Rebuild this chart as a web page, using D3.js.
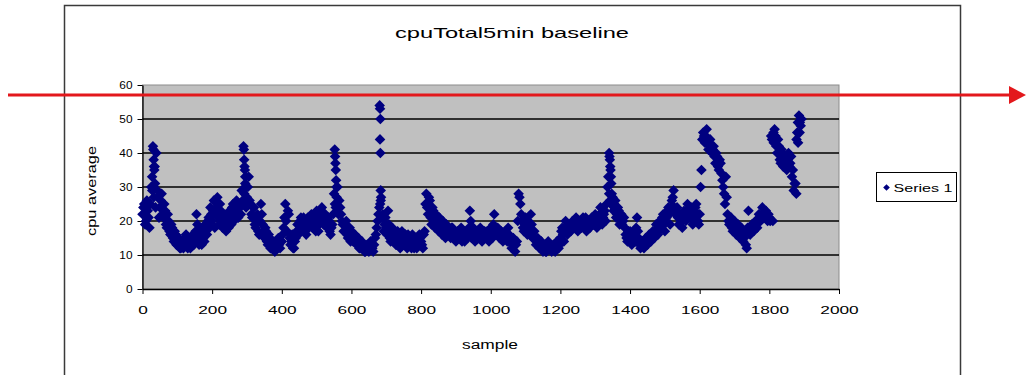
<!DOCTYPE html>
<html>
<head>
<meta charset="utf-8">
<script src="https://cdn.jsdelivr.net/npm/d3@7"></script>
<style>
  html, body { margin: 0; padding: 0; background: #fff; }
  svg { display: block; }
  text { font-family: "Liberation Sans", Arial, sans-serif; }
</style>
</head>
<body>
<svg id="chart" width="1026" height="375"></svg>
<script>
// ---------------- DATA ----------------
const chartTitle = "cpuTotal5min baseline";
const xLabel = "sample";
const yLabel = "cpu average";
const seriesName = "Series 1";
const xTicks = [0, 200, 400, 600, 800, 1000, 1200, 1400, 1600, 1800, 2000];
const yTicks = [0, 10, 20, 30, 40, 50, 60];

// readings every 5 samples starting at sample 0
const sampleStep = 5;
const cpu0000 = [22,25,20,23,18,30,42,36,40,27,24,28,21,23,18,20,16,18,14,16, 13,15,12,14,13,16,12,14,13,16,14,22,15,18,13,17,19,16,21,24];
const cpu0200 = [20,26,22,27,19,23,18,21,17,20,23,19,25,22,26,21,24,29,25,31, 27,33,25,21,24,18,22,16,25,19,15,17,13,15,12,14,11,13,15,12];
const cpu0400 = [14,18,25,17,22,13,16,12,15,19,17,21,18,20,16,21,19,22,18,20, 23,17,21,24,19,22,18,20,16,19,28,24,30,26,22,19,17,20,15,18];
const cpu0600 = [17,14,16,13,15,12,14,12,11,13,11,14,12,13,16,20,24,27,22,19, 18,23,15,17,14,16,13,15,12,17,14,16,12,15,13,16,12,15,14,16];
const cpu0800 = [14,12,17,28,22,26,19,23,18,21,17,20,16,19,15,18,17,15,18,16, 14,17,15,18,16,14,17,16,23,15,18,14,17,15,18,14,16,15,17,14];
const cpu1000 = [18,15,22,16,18,15,17,14,16,15,18,14,12,15,11,14,28,25,20,17, 21,16,19,22,15,17,13,15,12,14,11,13,11,14,12,11,13,11,14,12];
const cpu1200 = [15,18,14,20,16,19,17,20,18,21,17,20,18,21,19,17,20,18,21,19, 22,18,20,24,19,22,20,30,28,25,27,24,21,24,19,22,20,18,15,17];
const cpu1400 = [17,13,16,14,21,15,12,14,12,15,13,16,14,17,15,19,16,20,18,22, 17,21,24,19,26,29,22,24,19,21,18,23,20,25,21,24,19,23,25,20];
const cpu1600 = [22,35,46,43,47,41,44,40,42,37,39,35,37,32,28,33,22,19,21,17, 20,16,19,15,18,14,17,12,23,16,19,17,20,18,22,20,24,21,23,20];
const cpu1800 = [21,45,20,47,42,44,38,41,36,39,35,40,37,33,29,31,46,51,48];

// in-between readings, every 5 samples starting at sample 2.5
const offsetB = 2.5;
const mid0000 = [24,19,26,21,25,33,27,24,29,21,26,22,25,19,22,17,19,15,17,13, 15,12,14,12,15,13,15,12,15,13,17,19,13,16,15,14,17,20,18,22];
const mid0200 = [23,18,24,21,25,20,22,19,22,18,21,24,20,24,23,25,22,26,28,24, 30,26,22,24,19,21,17,20,22,17,18,14,16,12,14,12,14,12,13,14];
const mid0400 = [16,21,20,23,15,14,12,14,17,16,20,19,21,17,19,18,21,20,21,17, 21,19,23,20,22,19,21,17,18,22,25,27,22,24,20,17,19,16,17,14];
const mid0600 = [15,16,14,14,12,13,13,11,12,12,13,12,11,15,18,22,25,21,17,21, 16,19,14,18,15,13,17,14,16,13,15,13,16,14,12,14,15,12,13,13];
const mid0800 = [13,16,25,24,27,21,24,20,22,19,21,18,20,17,19,16,16,18,15,17, 16,15,17,14,17,16,15,18,20,17,16,15,15,17,16,15,17,16,15,16];
const mid1000 = [16,19,18,17,16,17,15,16,17,14,16,15,13,14,13,20,27,22,18,19, 18,20,17,19,17,15,14,13,13,12,12,11,12,12,13,12,12,12,13,13];
const mid1200 = [17,16,18,17,18,18,19,19,20,19,19,19,20,19,21,19,19,20,19,21, 20,21,22,21,21,23,25,33,26,28,23,26,22,23,21,19,21,16,14,15];
const mid1400 = [15,14,15,18,17,13,14,13,14,14,15,14,16,16,17,17,18,19,21,19, 20,23,22,24,27,24,23,21,22,20,22,21,23,22,23,21,22,24,22,19];
const mid1600 = [30,44,45,45,43,43,42,41,39,40,36,38,34,30,25,27,20,20,18,19, 18,17,17,16,16,15,13,18,17,18,18,19,19,20,21,22,22,22,21,22];
const mid1800 = [20,44,43,45,40,42,37,40,37,38,38,36,39,35,31,28,43,49,50];

// extra readings inside the short spikes: [sample, value]
const spikeReadings = [
  [31,41],[32,38],[33,36],[34,35],[36,31],[28,29],
  [290,42],[291,41],[292,38],[293,36],[294,35],[295,33],[296,30],
  [552,41],[553,39],[554,37],[555,35],[556,32],[557,30],
  [681,54],[682,53],[683,50],[682,44],[683,40],[684,29],[684,26],
  [1340,40],[1341,39],[1342,38],[1343,36],[1344,35],[1345,33],[1346,31],
  [1812,46],[1878,44],[1882,49],[1887,46]
];

// ---------------- BUILD ----------------
const baseValues = [].concat(cpu0000, cpu0200, cpu0400, cpu0600, cpu0800,
                             cpu1000, cpu1200, cpu1400, cpu1600, cpu1800);
const midValues = [].concat(mid0000, mid0200, mid0400, mid0600, mid0800,
                            mid1000, mid1200, mid1400, mid1600, mid1800);
const points = baseValues.map((v, i) => ({ s: i * sampleStep, v: v }))
  .concat(midValues.map((v, i) => ({ s: i * sampleStep + offsetB, v: v })))
  .concat(spikeReadings.map(d => ({ s: d[0], v: d[1] })));

const svg = d3.select("#chart");

// outer chart frame
svg.append("rect")
  .attr("x", 64.5).attr("y", 5.5).attr("width", 896).attr("height", 400)
  .attr("fill", "#fff").attr("stroke", "#3a3a3a").attr("stroke-width", 1.5);

const plot = { left: 142.5, right: 839, top: 85, bottom: 289 };
const x = d3.scaleLinear().domain([0, 2000]).range([plot.left, plot.right]);
const y = d3.scaleLinear().domain([0, 60]).range([plot.bottom, plot.top]);

// plot background
svg.append("rect")
  .attr("x", plot.left).attr("y", plot.top)
  .attr("width", plot.right - plot.left).attr("height", plot.bottom - plot.top)
  .attr("fill", "#c0c0c0").attr("stroke", "#8c8c8c").attr("stroke-width", 1);

// gridlines
svg.append("g").selectAll("line")
  .data(yTicks.filter(t => t > 0 && t < 60))
  .join("line")
  .attr("x1", plot.left).attr("x2", plot.right)
  .attr("y1", d => y(d)).attr("y2", d => y(d))
  .attr("stroke", "#000").attr("stroke-width", 1.4);

// axes
const xAxis = svg.append("g")
  .attr("transform", `translate(0,${plot.bottom})`)
  .call(d3.axisBottom(x).tickValues(xTicks).tickFormat(d3.format("d")).tickSize(5).tickSizeOuter(0));
xAxis.select(".domain").attr("stroke", "#000").attr("stroke-width", 1.3);
xAxis.selectAll(".tick line").attr("stroke", "#000");
xAxis.selectAll(".tick text")
  .attr("font-size", 11).attr("fill", "#000").attr("y", 17)
  .attr("font-family", "'Liberation Sans', Arial, sans-serif")
  .attr("textLength", function() { return this.textContent.length * 9.6; })
  .attr("lengthAdjust", "spacingAndGlyphs");

const yAxis = svg.append("g")
  .attr("transform", `translate(${plot.left},0)`)
  .call(d3.axisLeft(y).tickValues(yTicks).tickFormat(d3.format("d")).tickSize(5).tickSizeOuter(0));
yAxis.select(".domain").attr("stroke", "#000").attr("stroke-width", 1.3);
yAxis.selectAll(".tick line").attr("stroke", "#000");
yAxis.selectAll(".tick text")
  .attr("font-size", 11).attr("fill", "#000").attr("x", -10)
  .attr("font-family", "'Liberation Sans', Arial, sans-serif")
  .attr("textLength", function() { return this.textContent.length * 6.6; })
  .attr("lengthAdjust", "spacingAndGlyphs");

// points (diamonds)
const diamond = d3.symbol().type(d3.symbolSquare).size(56);
svg.append("g").selectAll("path")
  .data(points)
  .join("path")
  .attr("d", diamond)
  .attr("transform", d => `translate(${x(d.s)},${y(d.v)}) rotate(45)`)
  .attr("fill", "#000080");

// title
svg.append("text")
  .attr("x", 512).attr("y", 38).attr("text-anchor", "middle")
  .attr("font-size", 15).attr("fill", "#000")
  .attr("textLength", 234).attr("lengthAdjust", "spacingAndGlyphs")
  .text(chartTitle);

// axis titles
svg.append("text")
  .attr("x", 490).attr("y", 349).attr("text-anchor", "middle")
  .attr("font-size", 12).attr("fill", "#000")
  .attr("textLength", 56).attr("lengthAdjust", "spacingAndGlyphs")
  .text(xLabel);

svg.append("text")
  .attr("transform", "translate(96,191) rotate(-90)")
  .attr("text-anchor", "middle")
  .attr("font-size", 12).attr("fill", "#000")
  .attr("textLength", 90).attr("lengthAdjust", "spacingAndGlyphs")
  .text(yLabel);

// legend
const lg = svg.append("g").attr("transform", "translate(876.5,172.5)");
lg.append("rect").attr("width", 80).attr("height", 29)
  .attr("fill", "#fff").attr("stroke", "#000").attr("stroke-width", 1);
lg.append("path").attr("d", d3.symbol().type(d3.symbolSquare).size(22))
  .attr("transform", "translate(10,15) rotate(45)").attr("fill", "#000080");
lg.append("text").attr("x", 17).attr("y", 19)
  .attr("font-size", 11).attr("fill", "#000")
  .attr("textLength", 59).attr("lengthAdjust", "spacingAndGlyphs")
  .text(seriesName);

// red arrow annotation
svg.append("line")
  .attr("x1", 8).attr("x2", 1012).attr("y1", 95).attr("y2", 95)
  .attr("stroke", "#e3181c").attr("stroke-width", 3);
svg.append("path")
  .attr("d", "M1009,86L1026,95L1009,104Z")
  .attr("fill", "#e3181c");
</script>
</body>
</html>
